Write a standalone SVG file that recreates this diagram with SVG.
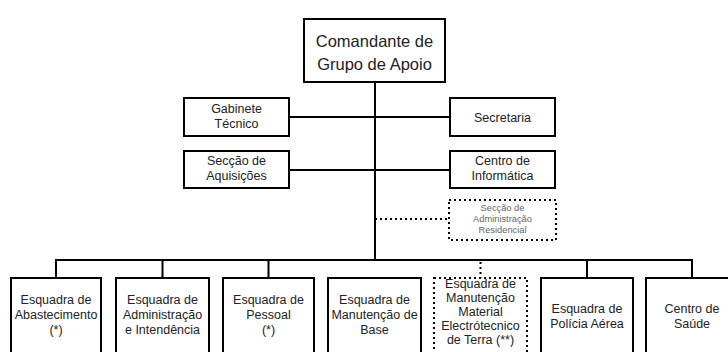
<svg xmlns="http://www.w3.org/2000/svg" width="728" height="352" viewBox="0 0 728 352">
<style>
.box{fill:#fff;stroke:#000;stroke-width:2}
.dbox{fill:#fff;stroke:#000;stroke-width:2;stroke-dasharray:2 3}
.ln{fill:none;stroke:#000;stroke-width:2}
.dln{fill:none;stroke:#000;stroke-width:2;stroke-dasharray:2 3}
text{font-family:"Liberation Sans",Arial,sans-serif;fill:#222;text-anchor:middle}
.t{font-size:12.5px}
.big{font-size:16.5px}
.sm{font-size:9.3px;fill:#666}
</style>
<rect width="728" height="352" fill="#fff"/>
<g id="connectors">
<path class="ln" d="M375 83V260M290 117H450M290 170H450M56 260H692M56 259V278M162.5 259V278M268.5 259V278M587 259V278M692 259V278"/>
<path class="dln" d="M375 219H449M480.5 262V278"/>
</g>
<g id="n-comandante">
<rect class="box" x="304" y="19" width="141" height="63"/>
<text class="big" x="374.5" y="47">Comandante de</text>
<text class="big" x="374.5" y="70">Grupo de Apoio</text>
</g>
<g id="n-gabinete">
<rect class="box" x="184" y="98" width="105" height="38"/>
<text class="t" x="236.5" y="113">Gabinete</text>
<text class="t" x="236.5" y="128">Técnico</text>
</g>
<g id="n-secretaria">
<rect class="box" x="450" y="98" width="105" height="38"/>
<text class="t" x="502.5" y="121.5">Secretaria</text>
</g>
<g id="n-aquisicoes">
<rect class="box" x="184" y="151" width="105" height="37"/>
<text class="t" x="236.5" y="165">Secção de</text>
<text class="t" x="236.5" y="180">Aquisições</text>
</g>
<g id="n-informatica">
<rect class="box" x="450" y="151" width="105" height="37"/>
<text class="t" x="502.5" y="165">Centro de</text>
<text class="t" x="502.5" y="180">Informática</text>
</g>
<g id="n-residencial">
<rect class="dbox" x="449" y="200" width="107" height="40"/>
<text class="sm" x="502.5" y="211">Secção de</text>
<text class="sm" x="502.5" y="222">Administração</text>
<text class="sm" x="502.5" y="233">Residencial</text>
</g>
<g id="n-abastecimento">
<rect class="box" x="11" y="278" width="90" height="90"/>
<text class="t" x="56" y="304">Esquadra de</text>
<text class="t" x="56" y="319">Abastecimento</text>
<text class="t" x="56" y="334">(*)</text>
</g>
<g id="n-administracao">
<rect class="box" x="116" y="278" width="93" height="90"/>
<text class="t" x="162.5" y="304">Esquadra de</text>
<text class="t" x="162.5" y="319">Administração</text>
<text class="t" x="162.5" y="334">e Intendência</text>
</g>
<g id="n-pessoal">
<rect class="box" x="223" y="278" width="91" height="90"/>
<text class="t" x="268.5" y="304">Esquadra de</text>
<text class="t" x="268.5" y="319">Pessoal</text>
<text class="t" x="268.5" y="334">(*)</text>
</g>
<g id="n-manut-base">
<rect class="box" x="328" y="278" width="93" height="90"/>
<text class="t" x="374.5" y="304">Esquadra de</text>
<text class="t" x="374.5" y="319">Manutenção de</text>
<text class="t" x="374.5" y="334">Base</text>
</g>
<g id="n-manut-material">
<rect class="dbox" x="434" y="278" width="93" height="90"/>
<text class="t" x="480.5" y="288">Esquadra de</text>
<text class="t" x="480.5" y="302">Manutenção</text>
<text class="t" x="480.5" y="316">Material</text>
<text class="t" x="480.5" y="330">Electrótecnico</text>
<text class="t" x="480.5" y="344">de Terra (**)</text>
</g>
<g id="n-policia">
<rect class="box" x="541" y="278" width="92" height="90"/>
<text class="t" x="587" y="313">Esquadra de</text>
<text class="t" x="587" y="328">Polícia Aérea</text>
</g>
<g id="n-saude">
<rect class="box" x="646" y="278" width="95" height="90"/>
<text class="t" x="692" y="313">Centro de</text>
<text class="t" x="692" y="328">Saúde</text>
</g>
</svg>
